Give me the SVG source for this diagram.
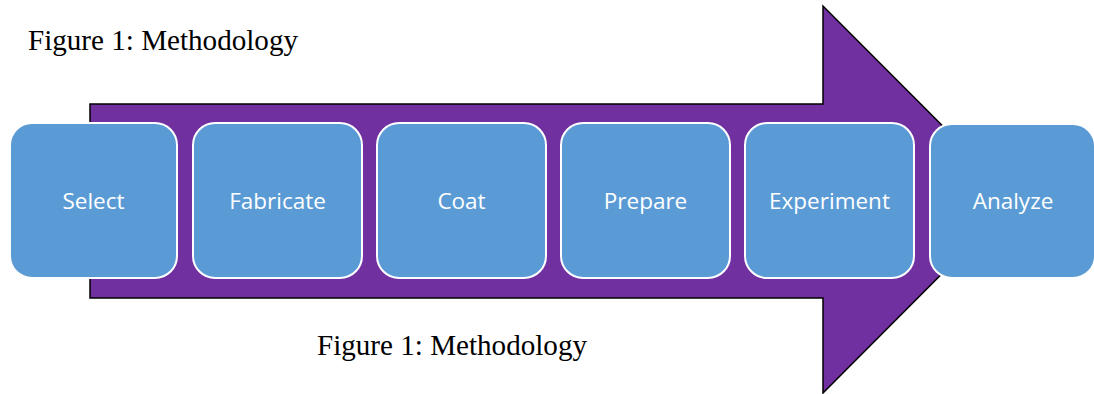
<svg xmlns="http://www.w3.org/2000/svg" width="1094" height="394" viewBox="0 0 1094 394">
  <style>
    .caption { font-family: "Liberation Serif", "Times New Roman", serif; font-size: 29px; fill: #000; }
    .step rect { fill: #5B9BD5; stroke: #FFFFFF; stroke-width: 2; }
    .step text { font-family: "Open Sans", "Noto Sans", sans-serif; font-size: 22.5px; fill: #FFFFFF; text-anchor: middle; }
  </style>
  <rect width="1094" height="394" fill="#FFFFFF"/>

  <text class="caption" x="28" y="50" textLength="270" lengthAdjust="spacingAndGlyphs">Figure 1: Methodology</text>

  <!-- process arrow behind the steps -->
  <g id="connectors">
    <path d="M90,104 H823 V6 L1016,199.5 L823,393 V298 H90 Z" fill="#7030A0" stroke="#000000" stroke-width="1.5" stroke-linejoin="miter"/>
  </g>

  <g id="select" class="step">
    <rect x="10" y="123" width="167" height="155" rx="22"/>
    <text x="93.5" y="209">Select</text>
  </g>
  <g id="fabricate" class="step">
    <rect x="193" y="123" width="169" height="155" rx="22"/>
    <text x="277.5" y="209">Fabricate</text>
  </g>
  <g id="coat" class="step">
    <rect x="377" y="123" width="169" height="155" rx="22"/>
    <text x="461.5" y="209">Coat</text>
  </g>
  <g id="prepare" class="step">
    <rect x="561" y="123" width="169" height="155" rx="22"/>
    <text x="645.5" y="209">Prepare</text>
  </g>
  <g id="experiment" class="step">
    <rect x="745" y="123" width="169" height="155" rx="22"/>
    <text x="829.5" y="209">Experiment</text>
  </g>
  <g id="analyze" class="step">
    <rect x="930" y="124" width="165" height="154" rx="22"/>
    <text x="1013" y="209">Analyze</text>
  </g>

  <text class="caption" x="317" y="355" textLength="270" lengthAdjust="spacingAndGlyphs">Figure 1: Methodology</text>
</svg>
